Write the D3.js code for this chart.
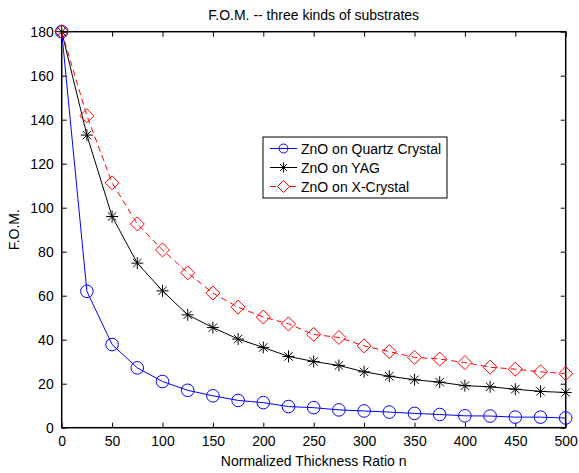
<!DOCTYPE html>
<html>
<head>
<meta charset="utf-8">
<script src="https://cdn.jsdelivr.net/npm/d3@7"></script>
<style>
  body { margin: 0; background: #fff; }
  svg text { font-family: "Liberation Sans", Arial, sans-serif; fill: #000; }
</style>
</head>
<body>
<svg id="chart"></svg>
<script>
// thickness ratio n
const ratios = [0, 25, 50, 75, 100, 125, 150, 175, 200, 225, 250, 275, 300, 325, 350, 375, 400, 425, 450, 475, 500];
const quartz = [180, 62, 37.8, 27.2, 21, 17, 14.5, 12.4, 11.4, 9.6, 9.1, 8.1, 7.6, 7.1, 6.5, 6.0, 5.4, 5.3, 4.8, 4.8, 4.4];
const yag = [180, 133, 96, 74.8, 62.2, 51.3, 45.5, 40.3, 36.5, 32.4, 30.1, 28.3, 25.4, 23.4, 21.8, 20.7, 19.1, 18.6, 17.5, 16.5, 16];
const xCrystal = [180, 141.8, 111.3, 92.6, 80.8, 70.4, 61.2, 54.8, 50.3, 47.2, 42.4, 41, 37.2, 34.6, 32, 31.2, 29.6, 27.5, 26.6, 25.4, 24.6];
const xTicks = [0, 50, 100, 150, 200, 250, 300, 350, 400, 450, 500];
const yTicks = [0, 20, 40, 60, 80, 100, 120, 140, 160, 180];

const series = [
  {name: "ZnO on Quartz Crystal", values: quartz, color: "#0000ff", marker: "circle", dash: null},
  {name: "ZnO on YAG", values: yag, color: "#000000", marker: "star", dash: null},
  {name: "ZnO on X-Crystal", values: xCrystal, color: "#ff0000", marker: "diamond", dash: "6,4"}
];

const width = 579, height = 473;
const margin = {top: 31.7, right: 13.3, bottom: 45.3, left: 61.7};
const w = width - margin.left - margin.right;
const h = height - margin.top - margin.bottom;
const fontSize = 14;

const svg = d3.select("#chart").attr("width", width).attr("height", height);
const chart = svg.append("g").attr("transform", `translate(${margin.left},${margin.top})`);

const x = d3.scaleLinear().domain([0, 500]).range([0, w]);
const y = d3.scaleLinear().domain([0, 180]).range([h, 0]);

// axes with inward ticks (on all four sides)
const tickLen = 5;
chart.append("g").attr("transform", `translate(0,${h})`)
  .call(d3.axisBottom(x).tickValues(xTicks).tickSizeInner(-tickLen).tickSizeOuter(0).tickPadding(8));
chart.append("g")
  .call(d3.axisLeft(y).tickValues(yTicks).tickSizeInner(-tickLen).tickSizeOuter(0).tickPadding(8));
chart.append("g")
  .call(d3.axisTop(x).tickValues(xTicks).tickSizeInner(-tickLen).tickSizeOuter(0).tickFormat(""));
chart.append("g").attr("transform", `translate(${w},0)`)
  .call(d3.axisRight(y).tickValues(yTicks).tickSizeInner(-tickLen).tickSizeOuter(0).tickFormat(""));

chart.selectAll(".domain").remove();
chart.selectAll(".tick line").attr("stroke", "#000");
chart.selectAll(".tick text").attr("font-size", fontSize).style("font-family", "Liberation Sans, Arial, sans-serif");

chart.append("rect")
  .attr("x", 0).attr("y", 0).attr("width", w).attr("height", h)
  .attr("fill", "none").attr("stroke", "#000").attr("stroke-width", 1.5);

const line = d3.line().x((d, i) => x(ratios[i])).y(d => y(d));

function drawMarker(g, type, color) {
  if (type === "circle") {
    g.append("circle").attr("r", 6.3).attr("fill", "none").attr("stroke", color);
  } else if (type === "diamond") {
    g.append("path").attr("d", "M0,-7L7,0L0,7L-7,0Z").attr("fill", "none").attr("stroke", color);
  } else {
    g.append("path")
      .attr("d", "M0,-6V6M-6,0H6M-4.2,-4.2L4.2,4.2M-4.2,4.2L4.2,-4.2")
      .attr("stroke", color).attr("stroke-width", 1);
  }
}

series.forEach(s => {
  chart.append("path")
    .datum(s.values)
    .attr("d", line)
    .attr("fill", "none")
    .attr("stroke", s.color)
    .attr("stroke-width", 1)
    .attr("stroke-dasharray", s.dash);
  chart.selectAll(null)
    .data(s.values)
    .join("g")
    .attr("transform", (d, i) => `translate(${x(ratios[i])},${y(d)})`)
    .each(function() { drawMarker(d3.select(this), s.marker, s.color); });
});

// legend
const legend = svg.append("g").attr("transform", "translate(263,137)");
legend.append("rect").attr("width", 184).attr("height", 61)
  .attr("fill", "#fff").attr("stroke", "#000").attr("stroke-width", 1);
series.forEach((s, i) => {
  const row = legend.append("g").attr("transform", `translate(0,${11.5 + i * 19})`);
  row.append("line").attr("x1", 7).attr("x2", 34).attr("y1", 0).attr("y2", 0)
    .attr("stroke", s.color).attr("stroke-dasharray", s.dash);
  const m = row.append("g").attr("transform", "translate(20.5,0)");
  if (s.marker === "circle") {
    m.append("circle").attr("r", 4.5).attr("fill", "none").attr("stroke", s.color);
  } else if (s.marker === "diamond") {
    m.append("path").attr("d", "M0,-6L6,0L0,6L-6,0Z").attr("fill", "#fff").attr("stroke", s.color);
  } else {
    m.append("path").attr("d", "M0,-5V5M-5,0H5M-3.5,-3.5L3.5,3.5M-3.5,3.5L3.5,-3.5").attr("stroke", s.color);
  }
  row.append("text").attr("x", 38).attr("y", 5).attr("font-size", fontSize).text(s.name);
});

// titles
svg.append("text").attr("x", margin.left + w / 2).attr("y", 20)
  .attr("text-anchor", "middle").attr("font-size", fontSize).text("F.O.M. -- three kinds of substrates");
svg.append("text").attr("x", margin.left + w / 2).attr("y", 466)
  .attr("text-anchor", "middle").attr("font-size", fontSize).text("Normalized Thickness Ratio n");
svg.append("text").attr("transform", `translate(19,${margin.top + h / 2}) rotate(-90)`)
  .attr("text-anchor", "middle").attr("font-size", fontSize).text("F.O.M.");
</script>
</body>
</html>
